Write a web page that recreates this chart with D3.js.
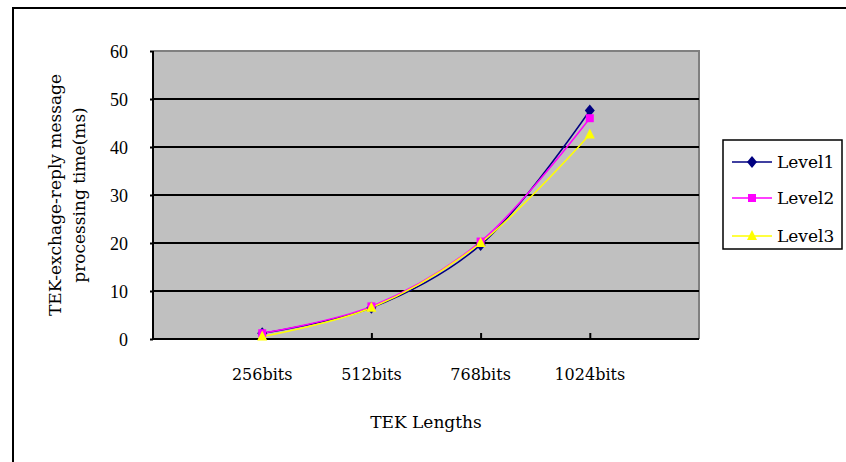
<!DOCTYPE html>
<html><head><meta charset="utf-8">
<script src="https://cdn.jsdelivr.net/npm/d3@7/dist/d3.min.js"></script>
<style>body{margin:0;background:#fff}svg{display:block}text{font-family:"DejaVu Serif",serif;fill:#000}</style>
</head><body>
<script>
const categories = ["256bits","512bits","768bits","1024bits"];
const level1 = [1.2, 6.5, 19.6, 47.6];
const level2 = [1.2, 6.8, 20.3, 46.0];
const level3 = [0.5, 6.5, 20.0, 42.6];
const seriesNames = ["Level1","Level2","Level3"];
const yTicks = [0,10,20,30,40,50,60];

const W=846,H=462;
const svg=d3.select("body").append("svg").attr("width",W).attr("height",H);
// outer frame
svg.append("path").attr("d","M13,470V8H860").attr("fill","none").attr("stroke","#000").attr("stroke-width",2);

const L=153,R=699,T=51,B=339;
const x=d3.scalePoint().domain(["_a",...categories,"_b"]).range([L,R]);
const y=d3.scaleLinear().domain([0,60]).range([B,T]);

svg.append("rect").attr("x",L).attr("y",T).attr("width",R-L).attr("height",B-T).attr("fill","#c0c0c0");
// top/right border
svg.append("path").attr("d",`M${L},${T}H${R}V${B}`).attr("fill","none").attr("stroke","#808080").attr("stroke-width",2);
// gridlines
svg.append("g").selectAll("line").data(yTicks.filter(d=>d>0&&d<60)).join("line")
  .attr("x1",L).attr("x2",R).attr("y1",d=>y(d)).attr("y2",d=>y(d)).attr("stroke","#000").attr("stroke-width",2);

// y axis
const ya=svg.append("g").attr("transform",`translate(${L},0)`).call(d3.axisLeft(y).tickValues(yTicks).tickSize(3).tickPadding(22));
ya.select(".domain").remove();
ya.selectAll("line").attr("stroke","#000").attr("stroke-width",2);
ya.selectAll("text").style("font-family","'Liberation Serif',serif").style("font-size","18px").attr("dy","0.35em");
svg.append("line").attr("x1",L).attr("x2",L).attr("y1",T).attr("y2",B+1).attr("stroke","#000").attr("stroke-width",2);

// x axis
const xa=svg.append("g").attr("transform",`translate(0,${B})`).call(d3.axisBottom(x).tickValues(categories.slice(1)).tickSize(-6).tickFormat(""));
xa.select(".domain").remove();
xa.selectAll("line").attr("stroke","#000").attr("stroke-width",2);
svg.append("line").attr("x1",L-1).attr("x2",R).attr("y1",B).attr("y2",B).attr("stroke","#000").attr("stroke-width",2);
svg.append("g").selectAll("text").data(categories).join("text")
  .attr("x",d=>x(d)).attr("y",380).attr("text-anchor","middle").style("font-size","16px").text(d=>d);

svg.append("text").attr("x",(L+R)/2).attr("y",428).attr("text-anchor","middle").style("font-size","17px").text("TEK Lengths");
const yt=svg.append("text").attr("transform","translate(0,195) rotate(-90)").attr("text-anchor","middle").style("font-size","17px");
yt.append("tspan").attr("x",0).attr("y",61).text("TEK-exchage-reply message");
yt.append("tspan").attr("x",0).attr("y",85).text("processing time(ms)");

const colors=["#000080","#ff00ff","#ffff00"];
const data=[level1,level2,level3];
const line=d3.line().x((d,i)=>x(categories[i])).y(d=>y(d)).curve(d3.curveCatmullRom.alpha(0.5));
function marker(g,i,cx,cy){
  if(i===0){g.append("path").attr("d",`M${cx},${cy-6}L${cx+5},${cy}L${cx},${cy+6}L${cx-5},${cy}Z`).attr("fill",colors[0]);}
  else if(i===1){g.append("rect").attr("x",cx-4).attr("y",cy-4).attr("width",8).attr("height",8).attr("fill",colors[1]);}
  else {g.append("path").attr("d",`M${cx},${cy-6}L${cx+5},${cy+4}L${cx-5},${cy+4}Z`).attr("fill",colors[2]);}
}
data.forEach((s,i)=>{
  svg.append("path").datum(s).attr("d",line).attr("fill","none").attr("stroke",colors[i]).attr("stroke-width",1.5);
});
data.forEach((s,i)=>{
  const g=svg.append("g");
  s.forEach((v,j)=>marker(g,i,x(categories[j]),y(v)));
});

// legend
svg.append("rect").attr("x",723).attr("y",140).attr("width",119).attr("height",109).attr("fill","#fff").attr("stroke","#000").attr("stroke-width",1.5);
const ly=[162,198,236];
seriesNames.forEach((n,i)=>{
  svg.append("line").attr("x1",732).attr("x2",772).attr("y1",ly[i]).attr("y2",ly[i]).attr("stroke",colors[i]).attr("stroke-width",1.5);
  marker(svg,i,752,ly[i]);
  svg.append("text").attr("x",777).attr("y",ly[i]+6).style("font-size","17px").text(n);
});
</script>
</body></html>
